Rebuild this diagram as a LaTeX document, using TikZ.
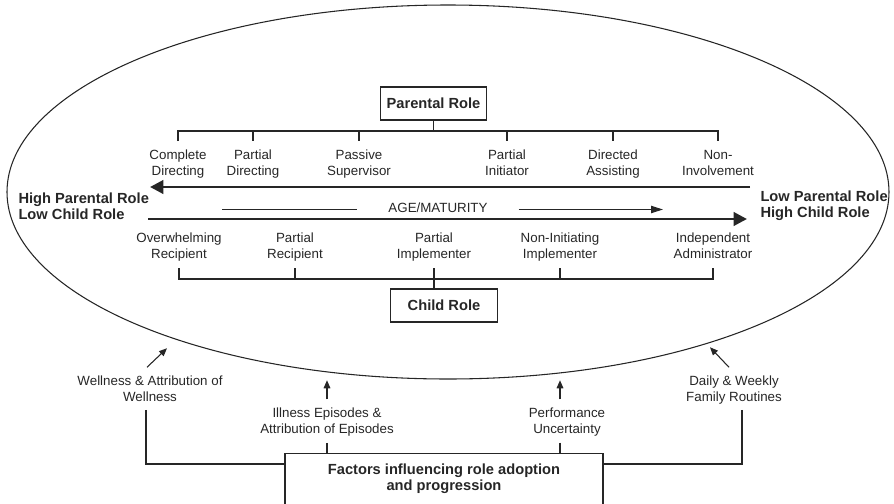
\documentclass[tikz,border=0pt]{standalone}
\usepackage{fontspec}
\setmainfont{Liberation Sans}
\usetikzlibrary{arrows.meta}
\definecolor{ink}{gray}{0.15}

\begin{document}
\begin{tikzpicture}[x=0.75pt, y=-0.75pt, ink, line width=0.8pt,
    lbl/.style={align=center, font=\fontsize{10}{12}\selectfont, inner sep=0pt, execute at end node=\vphantom{g}},
    boldtxt/.style={font=\fontsize{11}{12}\selectfont\bfseries},
    rolebox/.style={draw, boldtxt, minimum width=80pt, minimum height=24.75pt, inner sep=0pt},
    scalearrow/.style={line width=2.2pt, -{Triangle[length=10pt,width=10pt]}},
    agearrow/.style={line width=0.9pt, -{Triangle[length=9pt,width=5.5pt]}},
    factarrow/.style={line width=0.8pt, -{Triangle[length=6pt,width=5pt]}}]
  \clip (0,0) rectangle (894,504);
  \draw (448,192) ellipse [x radius=441, y radius=187];

  % Nodes
  \node[rolebox] (parent) at (433.5,103.5) {Parental Role};
  \node[rolebox] (child) at (444,305.5) {Child Role};

  \node[lbl] (cd) at (178,164) {Complete\\Directing};
  \node[lbl] (pd) at (253,164) {Partial\\Directing};
  \node[lbl] (ps) at (359,164) {Passive\\Supervisor};
  \node[lbl] (pin) at (507,164) {Partial\\Initiator};
  \node[lbl] (da) at (613,164) {Directed\\Assisting};
  \node[lbl] (ni) at (718,164) {Non-\\Involvement};

  \node[lbl] (ow) at (179,247.5) {Overwhelming\\Recipient};
  \node[lbl] (pr) at (295,247.5) {Partial\\Recipient};
  \node[lbl] (pim) at (434,247.5) {Partial\\Implementer};
  \node[lbl] (nim) at (560,247.5) {Non-Initiating\\Implementer};
  \node[lbl] (ia) at (713,247.5) {Independent\\Administrator};

  \node[boldtxt, align=left, anchor=west, inner sep=0pt] (high) at (18,206) {High Parental Role\\Low Child Role};
  \node[boldtxt, align=left, anchor=west, inner sep=0pt] (low) at (760,206) {Low Parental Role\\High Child Role};
  \node[lbl, inner xsep=23pt, execute at end node={}] (age) at (438,209.5) {AGE/MATURITY};

  \node[boldtxt, draw, align=center, anchor=north, minimum width=238.5pt, inner ysep=8pt, text depth=40pt] (factors) at (444,453) {Factors influencing role adoption\\and progression};
  \node[lbl] (well) at (150,390) {Wellness \& Attribution of\\Wellness};
  \node[lbl] (ill) at (327,422) {Illness Episodes \&\\Attribution of Episodes};
  \node[lbl] (perf) at (567,422) {Performance\\Uncertainty};
  \node[lbl] (daily) at (734,390) {Daily \& Weekly\\Family Routines};

  \coordinate (pstart) at (750,187);
  \coordinate (ptip) at (150,187);
  \coordinate (cstart) at (148,219);
  \coordinate (ctip) at (747,219);
  \coordinate (agestart) at (222,209.5);
  \coordinate (ageend) at (663,209.5);
  \coordinate (pbar) at (0,131);
  \coordinate (cbar) at (0,279);

  % Brackets
  \draw (parent) -- (parent |- pbar);
  \draw ([shift={(0,10)}]cd |- pbar) -- (cd |- pbar) -- (ni |- pbar) -- ++(0,10);
  \foreach \n in {pd,ps,pin,da} \draw (\n |- pbar) -- ++(0,10);
  \draw ([shift={(0,-11)}]ow |- cbar) -- (ow |- cbar) -- (ia |- cbar) -- ++(0,-11);
  \foreach \n in {pr,pim,nim} \draw (\n |- cbar) -- ++(0,-11);
  \draw (child.north -| pim) -- (pim |- cbar);

  % Arrows
  \draw[scalearrow] (pstart) -- (ptip);
  \draw[scalearrow] (cstart) -- (ctip);
  \draw (agestart) -- (age.west);
  \draw[agearrow] (age.east) -- (ageend);

  \draw[factarrow] ([shift={(-3,-8)}]well.north) -- ++(20,-19);
  \draw[factarrow] ([shift={(0,-8)}]ill.north) -- ++(0,-19);
  \draw[factarrow] ([shift={(-7,-8)}]perf.north) -- ++(0,-19);
  \draw[factarrow] ([shift={(-5,-8)}]daily.north) -- ++(-19,-20);

  \draw ([shift={(-4,5)}]well.south) |- (factors.west |- 0,464);
  \draw ([shift={(0,6)}]ill.south) -- (ill |- factors.north);
  \draw ([shift={(-7,6)}]perf.south) -- (factors.north -| 560,0);
  \draw ([shift={(8,5)}]daily.south) |- (factors.east |- 0,464);
\end{tikzpicture}
\end{document}
